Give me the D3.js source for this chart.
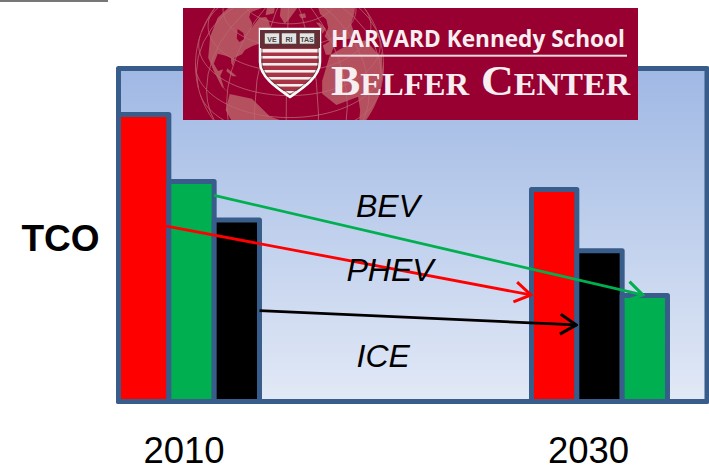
<!DOCTYPE html>
<html>

<head>
    <title>TCO 2010 vs 2030</title>
    <script src="https://d3js.org/d3.v7.min.js"></script>
    <style>
        body { margin: 0; background: #fff; }
        svg { display: block; }
        text { font-family: "Liberation Sans", Arial, sans-serif; }
    </style>
</head>

<body>
    <svg id="chart" width="709" height="466"></svg>

    <script>
        // values, TCO on a 0-100 scale
        var years = [2010, 2030];
        var seriesNames = ["PHEV", "BEV", "ICE"];
        var tco2010 = [86.2, 66.1, 54.5];
        var tco2030 = [63.7, 31.8, 45.3];
        var seriesColors = ["#ff0000", "#00b050", "#000000"];

        // where each arrow starts and ends on the TCO scale
        var arrowFrom = [52.7, 61.9, 27.3];
        var arrowTo = [32.0, 32.0, 23.0];

        var svg = d3.select("#chart");
        var defs = svg.append("defs");
        var edge = "#385d8a";

        var grad = defs.append("linearGradient").attr("id", "panelFill")
            .attr("x1", 0).attr("x2", 0).attr("y1", 0).attr("y2", 1);
        grad.append("stop").attr("offset", "0%").attr("stop-color", "#9fb8e4");
        grad.append("stop").attr("offset", "100%").attr("stop-color", "#e2e9f6");

        var panel = { left: 118.5, right: 707, top: 68.5, bottom: 401.5 };

        var y = d3.scaleLinear().domain([0, 100]).range([panel.bottom, panel.top]);
        var groupX = d3.scaleLinear().domain(years).range([123.5, 531.5]);
        var labelX = d3.scalePoint().domain(years).range([183.5, 588]);
        var barW = 45.33;

        // sliver of a box at the very top of the slide
        svg.append("rect").attr("x", 0).attr("y", 0).attr("width", 108).attr("height", 2).attr("fill", "#777");

        svg.append("rect")
            .attr("x", panel.left).attr("y", panel.top)
            .attr("width", panel.right - panel.left).attr("height", panel.bottom - panel.top)
            .attr("fill", "url(#panelFill)").attr("stroke", edge).attr("stroke-width", 5)
            .attr("stroke-linejoin", "round");

        // bars run tallest to shortest inside each year
        var bars = [];
        years.forEach(function (yr, k) {
            var vals = k == 0 ? tco2010 : tco2030;
            var order = d3.range(seriesNames.length).sort(function (a, b) { return vals[b] - vals[a]; });
            order.forEach(function (s, i) {
                var x0 = groupX(yr) + i * barW;
                // the first bar sits right against the panel edge
                if (x0 - panel.left < 10) x0 = panel.left;
                bars.push({ s: s, x0: x0, x1: groupX(yr) + (i + 1) * barW, v: vals[s], yr: yr });
            });
        });

        svg.append("g").selectAll("rect").data(bars).enter().append("rect")
            .attr("x", function (d) { return d.x0; })
            .attr("y", function (d) { return y(d.v); })
            .attr("width", function (d) { return d.x1 - d.x0; })
            .attr("height", function (d) { return y(0) - y(d.v); })
            .attr("fill", function (d) { return seriesColors[d.s]; })
            .attr("stroke", edge).attr("stroke-width", 5).attr("stroke-linejoin", "round");

        // arrows from the 2010 bar to the 2030 bar of the same series
        seriesColors.forEach(function (c, s) {
            defs.append("marker").attr("id", "head" + s)
                .attr("markerUnits", "userSpaceOnUse").attr("orient", "auto")
                .attr("viewBox", "-20 -13 22 26").attr("refX", 0).attr("refY", 0)
                .attr("markerWidth", 22).attr("markerHeight", 26)
                .append("path").attr("d", "M-16,-10L0,0L-16,10")
                .attr("fill", "none").attr("stroke", c).attr("stroke-width", 3);
        });

        function barOf(s, yr) {
            return bars.filter(function (b) { return b.s == s && b.yr == yr; })[0];
        }

        svg.append("g").selectAll("line").data(seriesNames).enter().append("line")
            .attr("x1", function (d, s) { return barOf(s, 2010).x1 - (s == 0 ? 2.5 : 0); })
            .attr("y1", function (d, s) { return y(arrowFrom[s]); })
            .attr("x2", function (d, s) {
                var b = barOf(s, 2030);
                return d == "BEV" ? (b.x0 + b.x1) / 2 - 2 : b.x0 - 0.5;
            })
            .attr("y2", function (d, s) { return y(arrowTo[s]); })
            .attr("stroke", function (d, s) { return seriesColors[s]; })
            .attr("stroke-width", 2.8)
            .attr("marker-end", function (d, s) { return "url(#head" + s + ")"; });

        // ---- logo ----
        var logo = svg.append("g");
        var crimson = "#970030", pink = "#b5505f";
        defs.append("clipPath").attr("id", "logoClip").append("rect")
            .attr("x", 183).attr("y", 8).attr("width", 455).attr("height", 112);
        logo.append("rect").attr("x", 183).attr("y", 8).attr("width", 455).attr("height", 112).attr("fill", crimson);

        var projection = d3.geoOrthographic().rotate([38, -34]).scale(94).translate([289.5, 65]);
        var geoPath = d3.geoPath(projection);
        var land = [
            [[-165, 65], [-160, 71], [-125, 70], [-95, 72], [-82, 68], [-94, 60], [-90, 57], [-82, 55], [-79, 52], [-78, 60], [-70, 62], [-64, 60], [-56, 52], [-65, 49], [-60, 46], [-66, 44], [-70, 42], [-75, 38], [-76, 35], [-81, 31], [-80, 26], [-82, 27], [-84, 30], [-90, 29], [-97, 27], [-97, 20], [-91, 18], [-87, 21], [-88, 16], [-83, 10], [-78, 8], [-85, 10], [-95, 16], [-105, 20], [-115, 30], [-124, 40], [-125, 50], [-140, 60], [-165, 55]],
            [[-55, 82], [-25, 82], [-20, 72], [-40, 62], [-44, 60], [-52, 65], [-58, 75]],
            [[-80, 73], [-65, 70], [-62, 66], [-72, 63], [-78, 68]],
            [[-78, 8], [-62, 10], [-50, 0], [-35, -6], [-39, -18], [-48, -26], [-58, -38], [-68, -54], [-74, -50], [-72, -20], [-81, -5]],
            [[-6, 36], [10, 37], [32, 31], [35, 25], [43, 12], [51, 11], [40, -15], [32, -28], [20, -35], [14, -20], [9, 3], [-8, 4], [-17, 14], [-16, 22]],
            [[-9, 43], [-2, 44], [-4, 48], [4, 52], [8, 57], [6, 62], [14, 68], [28, 71], [40, 66], [60, 60], [60, 45], [30, 45], [24, 37], [15, 40], [8, 44], [3, 42], [-5, 36], [-9, 37]],
            [[-6, 58], [-2, 57], [1, 52], [-5, 50], [-4, 54]],
            [[-24, 66], [-14, 66], [-15, 63], [-22, 63]],
            [[-84, 23], [-75, 21], [-78, 20], [-84, 21]]
        ];
        var lakes = [[-92, 47], [-84, 47], [-80, 44], [-83, 41], [-87, 42]];
        function ring(pts) { return { type: "Polygon", coordinates: [pts.concat([pts[0]])] }; }

        var globe = logo.append("g").attr("clip-path", "url(#logoClip)");
        land.forEach(function (pts) {
            globe.append("path").attr("d", geoPath(ring(pts))).attr("fill", pink);
        });
        globe.append("path").attr("d", geoPath(ring(lakes))).attr("fill", crimson);
        globe.append("path").attr("d", geoPath(d3.geoGraticule().step([20, 15])()))
            .attr("fill", "none").attr("stroke", "#bd6472").attr("stroke-width", 0.8);
        globe.append("path").attr("d", geoPath({ type: "Sphere" }))
            .attr("fill", "none").attr("stroke", pink).attr("stroke-width", 1);

        // shield
        var shieldD = "M260,29L320,29L320,62C320,78 300,90 290,97C280,90 260,78 260,62Z";
        defs.append("clipPath").attr("id", "shieldClip").append("path").attr("d", shieldD);
        logo.append("path").attr("d", shieldD).attr("fill", "#a83344").attr("stroke", "#fff").attr("stroke-width", 2.5);
        var stripes = logo.append("g").attr("clip-path", "url(#shieldClip)");
        stripes.append("rect").attr("x", 260).attr("y", 30).attr("width", 60).attr("height", 18).attr("fill", "#6b2b35");
        d3.range(49, 95, 7).forEach(function (sy, i) {
            stripes.append("rect").attr("x", 260).attr("y", sy)
                .attr("width", 60).attr("height", i == 0 ? 3.5 : 2.6).attr("fill", "#f4eeee");
        });
        logo.append("path").attr("d", "M262,31L318,31L318,62C318,77 299,88 290,94.5C281,88 262,77 262,62Z")
            .attr("fill", "none").attr("stroke", "#4b3a3a").attr("stroke-width", 0.7);
        [["VE", 272], ["RI", 289], ["TAS", 307]].forEach(function (b) {
            logo.append("rect").attr("x", b[1] - 7.5).attr("y", 33).attr("width", 15).attr("height", 11)
                .attr("fill", "#e6e4e2").attr("stroke", "#444").attr("stroke-width", 0.6);
            logo.append("text").attr("x", b[1]).attr("y", 41.5).attr("text-anchor", "middle")
                .attr("font-size", 7).attr("font-weight", "bold").attr("fill", "#444").text(b[0]);
        });

        // wordmark
        logo.append("text").attr("x", 331).attr("y", 47).attr("textLength", 294).attr("lengthAdjust", "spacingAndGlyphs")
            .style("font-family", '"Open Sans"').attr("font-size", 24).attr("font-weight", "bold").attr("fill", "#f6eef0")
            .text("HARVARD Kennedy School");
        logo.append("rect").attr("x", 331).attr("y", 54.7).attr("width", 296).attr("height", 2).attr("fill", "#ecd9de");

        function smallCaps(first, rest, x, len) {
            var t = logo.append("text").attr("x", x).attr("y", 95).attr("textLength", len).attr("lengthAdjust", "spacingAndGlyphs")
                .style("font-family", '"Liberation Serif"').attr("font-weight", "bold").attr("fill", "#f6eef0");
            t.append("tspan").attr("font-size", 43).text(first);
            t.append("tspan").attr("font-size", 32).text(rest);
        }
        smallCaps("B", "ELFER", 331, 138);
        smallCaps("C", "ENTER", 481, 149);

        // ---- text on top ----
        var axis = svg.append("g").attr("transform", "translate(0,431)")
            .call(d3.axisBottom(labelX).tickSize(0).tickPadding(6));
        axis.select(".domain").remove();
        axis.selectAll("text").attr("fill", "#000").style("font-family", '"Liberation Sans"').attr("font-size", 36.5);

        svg.append("text").attr("x", 60.5).attr("y", 251).attr("text-anchor", "middle")
            .attr("font-size", 37).attr("font-weight", "bold").text("TCO");

        // series names, same order as seriesNames
        var nameX = [346.5, 356, 356.5], nameY = [281, 217, 367];
        svg.append("g").selectAll("text").data(seriesNames).enter().append("text")
            .attr("x", function (d, i) { return nameX[i]; })
            .attr("y", function (d, i) { return nameY[i]; })
            .attr("font-size", 32).attr("font-style", "italic")
            .text(function (d) { return d; });
    </script>
</body>

</html>
